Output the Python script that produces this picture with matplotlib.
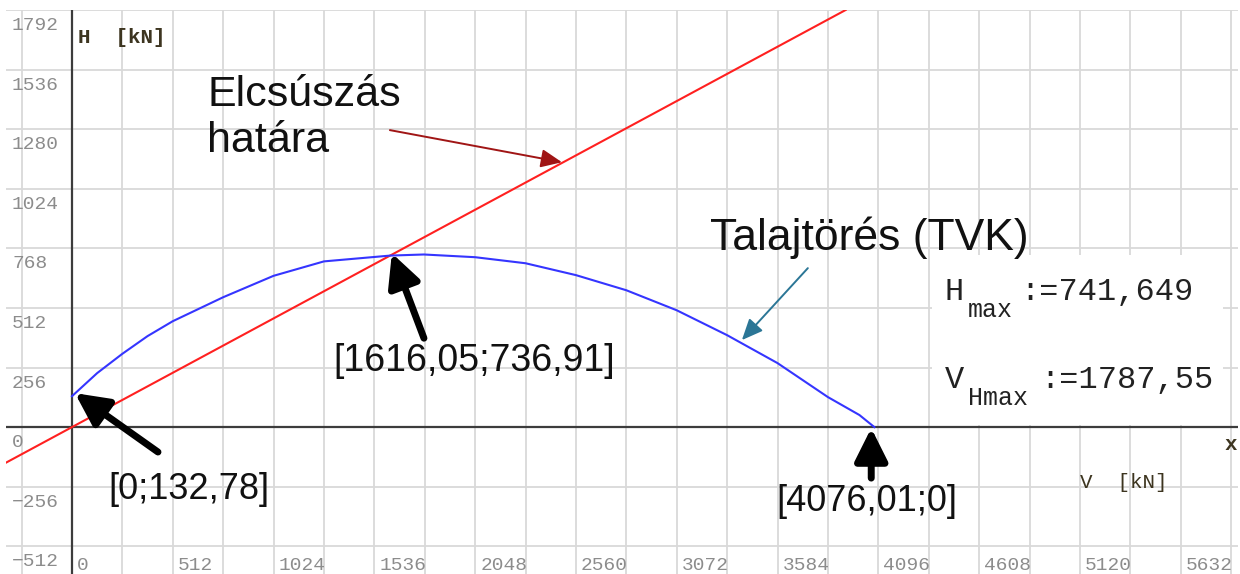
import numpy as np
import matplotlib.pyplot as plt
from matplotlib.patches import Rectangle

# Talajtörés (TVK) curve
v_tvk = [0, 128, 256, 384, 512, 768, 1024, 1280, 1616.05, 1787.55, 2048,
         2304, 2560, 2816, 3072, 3328, 3584, 3840, 4000, 4076.01]
h_tvk = [132.78, 232, 315, 391, 455, 558, 650, 712, 736.91, 741.649, 730,
         704, 653, 588, 502, 395, 275, 129, 52, 0]

# Elcsúszás határa (straight line)
v_slide = [-340, 0, 1616.05, 3930]
h_slide = [-155, 0, 736.91, 1792]

x_grid = np.arange(-256, 5889, 256)
y_grid = np.arange(-512, 1793, 256)
x_labels = [0, 512, 1024, 1536, 2048, 2560, 3072, 3584, 4096, 4608, 5120, 5632]
y_labels = [1792, 1536, 1280, 1024, 768, 512, 256, 0, -256, -512]

mono = "Liberation Mono"
sans = "Liberation Sans"

fig = plt.figure(figsize=(12.4, 5.74), dpi=100)
ax = fig.add_axes([6 / 1240, 0, 1232 / 1240, 564 / 574])
ax.set_xlim(-335, 5923)
ax.set_ylim(-631, 1792)
for s in ax.spines.values():
    s.set_visible(False)
ax.set_xticks(x_grid)
ax.set_yticks(y_grid)
ax.tick_params(length=0, labelbottom=False, labelleft=False)
ax.grid(True, color="#d9d9d9", lw=1.3)
ax.set_axisbelow(True)

ax.axhline(0, color="#3c3c3c", lw=1.6, zorder=2)
ax.axvline(0, color="#3c3c3c", lw=1.6, zorder=2)

# tick labels inside the plot
for t in y_labels:
    ax.annotate(str(t).replace("-", "\u2212"), xy=(-335, t), xytext=(6, -7),
                textcoords="offset pixels", ha="left", va="top",
                family=mono, fontsize=14, color="#8c8c8c")
for t in x_labels:
    ax.annotate(str(t), xy=(t, -512), xytext=(5, -11),
                textcoords="offset pixels", ha="left", va="top",
                family=mono, fontsize=14, color="#8c8c8c")

# white box behind the results
ax.add_patch(Rectangle((4368, 8), 1478, 730, facecolor="white",
                       edgecolor="none", zorder=1))

ax.plot(v_slide, h_slide, color="#ff2020", lw=1.5, zorder=3)
ax.plot(v_tvk, h_tvk, color="#3535ff", lw=1.5, zorder=3)

ax.text(30, 1650, "H  [kN]", family=mono, fontsize=15, fontweight="bold",
        color="#3d3520")
ax.text(5120, -262, "V  [kN]", family=mono, fontsize=15, color="#3d3520")
ax.text(5856, -99, "x", family=mono, fontsize=15, fontweight="bold",
        color="#3d3520")

ax.text(686, 1512, "Elcsúszás\nhatára", family=sans, fontsize=31,
        va="top", ha="left", linespacing=1.2, color="#111111")
ax.text(3240, 760, "Talajtörés (TVK)", family=sans, fontsize=32,
        color="#111111")
ax.text(1326, 283, "[1616,05;736,91]", family=sans, fontsize=27,
        va="center", color="#111111")
ax.text(183, -266, "[0;132,78]", family=sans, fontsize=26,
        va="center", color="#111111")
ax.text(3576, -318, "[4076,01;0]", family=sans, fontsize=26,
        va="center", color="#111111")

# results
res = dict(family=mono, color="#222222", zorder=4)
ax.text(4434, 545, "H", fontsize=23, **res)
ax.text(4551, 472, "max", fontsize=18, **res)
ax.text(4815, 545, ":=741,649", fontsize=23, **res)
ax.text(4434, 167, "V", fontsize=23, **res)
ax.text(4551, 94, "Hmax", fontsize=18, **res)
ax.text(4917, 167, ":=1787,55", fontsize=23, **res)

# thick arrows
thick = dict(arrowstyle="-|>,head_length=0.9,head_width=0.45", lw=5,
             color="black", mutation_scale=22, shrinkA=0, shrinkB=0)
ax.annotate("", xy=(15, 146), xytext=(437, -107), arrowprops=thick, zorder=5)
ax.annotate("", xy=(1625, 747), xytext=(1788, 382), arrowprops=thick, zorder=5)
ax.annotate("", xy=(4060, -4), xytext=(4060, -219), arrowprops=thick, zorder=5)

# thin arrows
ax.annotate("", xy=(2489, 1138), xytext=(1615, 1276),
            arrowprops=dict(arrowstyle="-|>,head_length=0.8,head_width=0.35",
                            lw=1.4, color="#a01515", mutation_scale=16,
                            shrinkA=0, shrinkB=0))
ax.annotate("", xy=(3403, 374), xytext=(3738, 683),
            arrowprops=dict(arrowstyle="-|>,head_length=0.8,head_width=0.35",
                            lw=1.4, color="#2b7696", mutation_scale=16,
                            shrinkA=0, shrinkB=0))

fig.savefig("out.png", dpi=100)
